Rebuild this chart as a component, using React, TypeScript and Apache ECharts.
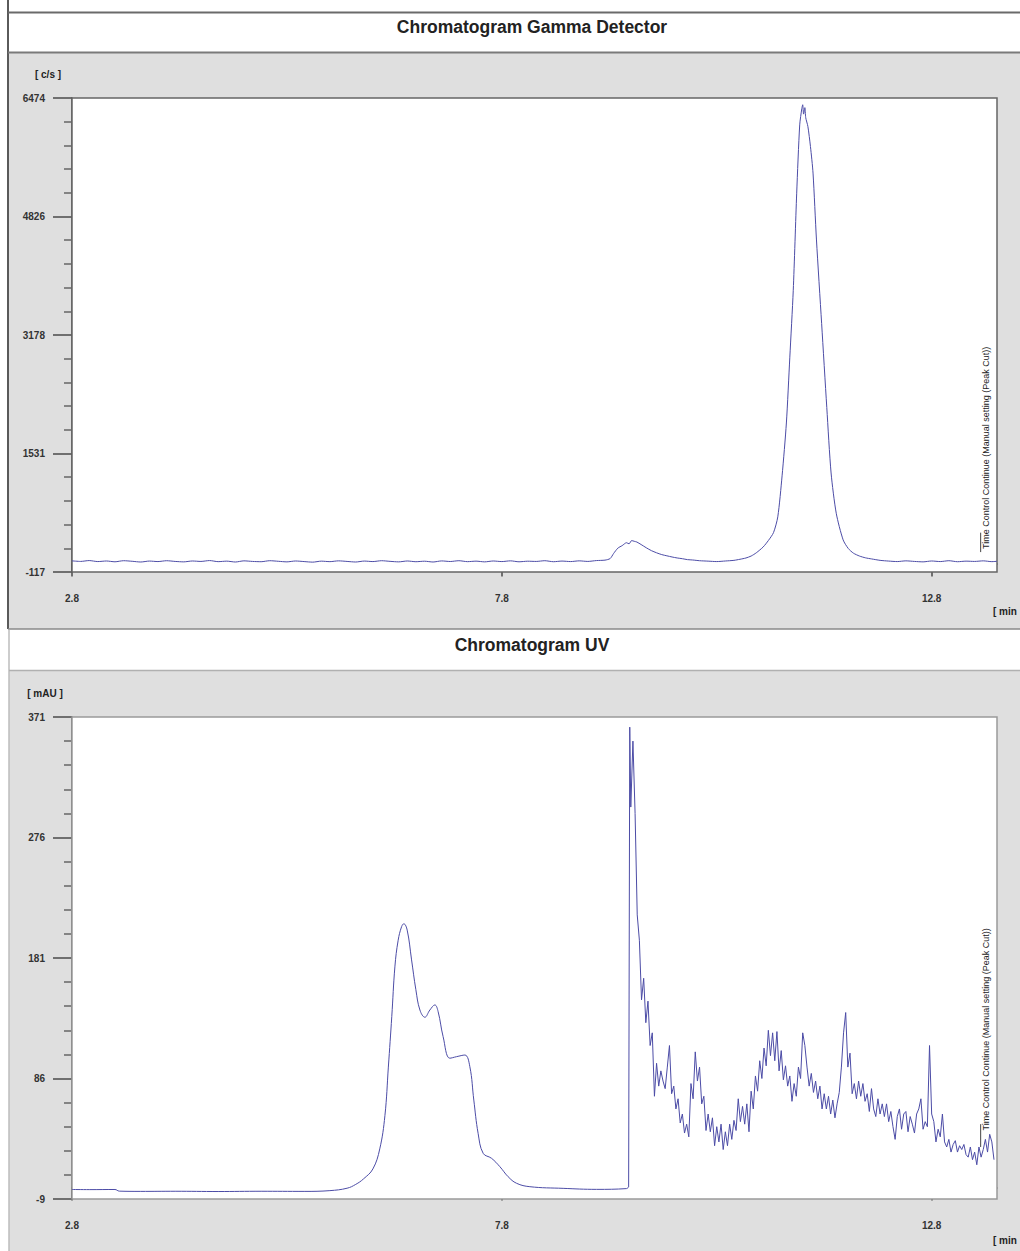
import React, { useEffect, useRef } from "react";
import * as echarts from "echarts";

// ---- axis settings ----
const TIME_MIN = 2.8;
const TIME_MAX = 13.56;
const timeLabels = [2.8, 7.8, 12.8];
const gammaLabels = [-117, 1531, 3178, 4826, 6474];
const uvLabels = [-9, 86, 181, 276, 371];

// ---- gamma detector trace [min, c/s] ----
const gammaBaseline: [number, number][] = [
  [2.8, 38], [2.9, 30], [3.0, 42], [3.1, 28], [3.2, 36], [3.3, 25], [3.4, 40], [3.5, 32],
  [3.6, 22], [3.7, 35], [3.8, 28], [3.9, 40], [4.0, 30], [4.1, 24], [4.2, 36], [4.3, 30],
  [4.4, 42], [4.5, 27], [4.6, 34], [4.7, 22], [4.8, 38], [4.9, 30], [5.0, 26], [5.1, 40],
  [5.2, 32], [5.3, 24], [5.4, 36], [5.5, 28], [5.6, 20], [5.7, 34], [5.8, 27], [5.9, 38],
  [6.0, 30], [6.1, 22], [6.2, 35], [6.3, 28], [6.4, 40], [6.5, 31], [6.6, 24], [6.7, 36],
  [6.8, 26], [6.9, 33], [7.0, 22], [7.1, 37], [7.2, 29], [7.3, 40], [7.4, 27], [7.5, 34],
  [7.6, 24], [7.7, 36], [7.8, 28], [7.9, 38], [8.0, 25], [8.1, 33], [8.2, 30], [8.3, 40],
  [8.4, 26], [8.5, 35], [8.6, 28], [8.7, 38], [8.8, 30], [8.9, 42], [9.0, 48],
];
const gammaPeaks: [number, number][] = [
  [9.06, 70], [9.1, 140], [9.15, 215], [9.2, 250], [9.25, 290], [9.28, 275], [9.31, 320],
  [9.34, 310], [9.37, 300], [9.42, 265], [9.48, 220], [9.54, 180], [9.6, 150], [9.66, 125],
  [9.72, 108], [9.78, 92], [9.84, 78], [9.9, 68], [9.96, 55], [10.02, 50], [10.1, 40],
  [10.2, 34], [10.3, 28], [10.4, 36], [10.5, 45], [10.57, 60], [10.64, 78], [10.7, 105],
  [10.76, 150], [10.84, 231], [10.9, 320], [10.96, 430], [11.01, 650], [11.06, 1220],
  [11.11, 1955], [11.15, 2870], [11.19, 3800], [11.23, 5150], [11.265, 6100], [11.29, 6330],
  [11.3, 6380], [11.31, 6250], [11.325, 6340], [11.335, 6200], [11.36, 6080], [11.39, 5800],
  [11.42, 5430], [11.46, 4500], [11.52, 3340], [11.58, 2170], [11.63, 1260], [11.69, 700],
  [11.77, 330], [11.83, 210], [11.89, 145], [11.96, 105], [12.03, 80], [12.1, 65],
];
const gammaTail: [number, number][] = [
  [12.2, 45], [12.3, 35], [12.4, 28], [12.5, 38], [12.6, 30], [12.7, 24], [12.8, 36],
  [12.9, 28], [13.0, 40], [13.1, 26], [13.2, 34], [13.3, 30], [13.4, 38], [13.5, 27], [13.56, 32],
];

// ---- UV trace [min, mAU] ----
const uvSmooth: [number, number][] = [
  [2.8, -1.5], [3.0, -1.6], [3.3, -1.5], [3.35, -2.8], [3.6, -3.0], [4.0, -2.9], [4.5, -3.1],
  [5.0, -2.9], [5.5, -3.0], [5.8, -2.4], [6.0, -0.5], [6.1, 2.5], [6.19, 6.8], [6.3, 14.7],
  [6.38, 30.5], [6.44, 56.7], [6.48, 95], [6.52, 135], [6.556, 174], [6.594, 195],
  [6.634, 205.7], [6.66, 208], [6.699, 203], [6.75, 179.5], [6.8, 156], [6.847, 140],
  [6.905, 134.3], [6.963, 140], [7.021, 144], [7.059, 138.7], [7.117, 119], [7.195, 102],
  [7.273, 103.2], [7.37, 104.5], [7.428, 95.3], [7.474, 69], [7.524, 42.8], [7.583, 27],
  [7.68, 23.1], [7.777, 16.5], [7.873, 8.6], [7.971, 3.4], [8.126, 0.7], [8.513, -0.6],
  [8.901, -1.4], [9.25, -0.8], [9.275, 0.5],
];
const uvSpike: [number, number][] = [[9.275, 0.5], [9.288, 363]];
// detector readings after the injection spike, sampled every 0.025 min
const uvNoisyStart = 9.3;
const uvNoisyStep = 0.025;
const uvNoisy = [
  300, 352, 295, 215, 195, 148, 165, 130, 147, 112, 122, 72, 98, 80, 92, 84, 78, 95, 112, 74,
  80, 62, 70, 51, 58, 43, 50, 40, 82, 70, 107, 84, 95, 66, 72, 45, 58, 44, 55, 33,
  48, 36, 50, 30, 44, 33, 50, 38, 53, 45, 70, 52, 64, 50, 66, 44, 76, 62, 88, 76,
  100, 86, 110, 96, 124, 104, 122, 100, 123, 92, 108, 85, 96, 80, 88, 68, 82, 72, 95, 86,
  122, 112, 95, 80, 90, 75, 84, 70, 80, 62, 74, 62, 72, 58, 69, 55, 66, 75, 95, 122,
  138, 95, 106, 74, 82, 70, 84, 72, 82, 68, 74, 60, 78, 62, 56, 70, 58, 66, 56, 66,
  52, 60, 48, 38, 56, 62, 46, 58, 60, 44, 56, 50, 43, 58, 62, 70, 46, 52, 48, 112,
  58, 52, 36, 46, 40, 58, 36, 32, 38, 28, 34, 37, 28, 33, 30, 34, 26, 24, 32, 22,
  28, 18, 32, 24, 30, 38, 28, 42, 36, 22,
];

// ---- run-control event marker ----
const markerText = "Time Control Continue (Manual setting (Peak Cut))";
const markerTime = 13.37;
const gammaMarker = { from: 160, to: 430, textAt: 203 };
const uvMarker = { from: 32, to: 50, textAt: 45 };

const FONT = '"Liberation Sans", Arial, sans-serif';
const TRACE = "#4c4ca6";
const AXIS = "#4a4a4a";

// intermediate tick positions between labelled ticks
function between(labels: number[], parts: number): number[] {
  const out: number[] = [];
  for (let i = 0; i < labels.length - 1; i++) {
    for (let j = 1; j < parts; j++) out.push(labels[i] + ((labels[i + 1] - labels[i]) * j) / parts);
  }
  return out;
}
const timeMinorTicks: number[] = [];
for (let i = 1; TIME_MIN + 0.5 * i < TIME_MAX; i++) {
  const t = Number((TIME_MIN + 0.5 * i).toFixed(2));
  if (!timeLabels.includes(t)) timeMinorTicks.push(t);
}

function xAxes(grid: number) {
  const base = { type: "value", gridIndex: grid, min: TIME_MIN, max: TIME_MAX, splitLine: { show: false }, position: "bottom" };
  return [
    {
      ...base,
      axisLine: { show: true, lineStyle: { color: AXIS, width: 1.5 } },
      axisTick: { show: true, customValues: timeLabels, length: 13, lineStyle: { color: AXIS, width: 1.5 } },
      axisLabel: {
        show: true, customValues: timeLabels, margin: 21, color: "#333",
        fontFamily: FONT, fontSize: 10, fontWeight: "bold",
        formatter: (v: number) => v.toFixed(1),
      },
    },
    {
      ...base,
      axisLine: { show: false },
      axisTick: { show: true, customValues: timeMinorTicks, length: 8, lineStyle: { color: AXIS, width: 1.5 } },
      axisLabel: { show: false },
    },
  ];
}

function yAxes(grid: number, labels: number[]) {
  const base = { type: "value", gridIndex: grid, min: labels[0], max: labels[labels.length - 1], splitLine: { show: false }, position: "left" };
  return [
    {
      ...base,
      axisLine: { show: true, lineStyle: { color: AXIS, width: 1.5 } },
      axisTick: { show: true, customValues: labels, length: 19, lineStyle: { color: AXIS, width: 1.5 } },
      axisLabel: {
        show: true, customValues: labels, margin: 27, color: "#333",
        fontFamily: FONT, fontSize: 10, fontWeight: "bold",
        formatter: (v: number) => String(Math.round(v)),
      },
    },
    {
      ...base,
      axisLine: { show: false },
      axisTick: { show: true, customValues: between(labels, 5), length: 8, lineStyle: { color: "#666", width: 1.5 } },
      axisLabel: { show: false },
    },
  ];
}

function traceSeries(data: [number, number][], axisIndex: number, smooth: number | boolean = false) {
  return {
    type: "line", xAxisIndex: axisIndex, yAxisIndex: axisIndex, data, smooth,
    showSymbol: false, symbol: "none", lineStyle: { color: TRACE, width: 1 }, z: 3,
  };
}
function markerSeries(m: { from: number; to: number }, axisIndex: number) {
  return {
    type: "line", xAxisIndex: axisIndex, yAxisIndex: axisIndex,
    data: [[markerTime, m.from], [markerTime, m.to]],
    showSymbol: false, symbol: "none", lineStyle: { color: "#444", width: 1 }, z: 4,
  };
}

function text(x: number, y: number, str: string, font: string, align = "left", extra: any = {}) {
  return {
    type: "text", x, y, z: 100,
    style: { text: str, font, fill: "#222", align, textAlign: align, verticalAlign: "middle", textVerticalAlign: "middle" },
    ...extra,
  };
}
function hline(x1: number, x2: number, y: number, color: string, w: number) {
  return { type: "line", z: 50, shape: { x1, y1: y, x2, y2: y }, style: { stroke: color, lineWidth: w } };
}
function vline(x: number, y1: number, y2: number, color: string, w: number) {
  return { type: "line", z: 50, shape: { x1: x, y1, x2: x, y2 }, style: { stroke: color, lineWidth: w } };
}

export default function App() {
  const ref = useRef<HTMLDivElement>(null);

  useEffect(() => {
    if (!ref.current) return;
    const chart = echarts.init(ref.current, null, { renderer: "svg" });

    const gammaData = [...gammaBaseline, ...gammaPeaks, ...gammaTail];
    const uvNoisyData: [number, number][] = [
      ...uvSpike,
      ...uvNoisy.map((v, i) => [Number((uvNoisyStart + uvNoisyStep * i).toFixed(3)), v] as [number, number]),
    ];

    chart.setOption({
      animation: false,
      backgroundColor: "#ffffff",
      grid: [
        { left: 72, top: 98, width: 925, height: 474, show: true, backgroundColor: "#ffffff", borderColor: "#666", borderWidth: 1.5, z: 1 },
        { left: 72, top: 717, width: 925, height: 482, show: true, backgroundColor: "#ffffff", borderColor: "#9a9a9a", borderWidth: 1.5, z: 1 },
      ],
      xAxis: [...xAxes(0), ...xAxes(1)],
      yAxis: [...yAxes(0, gammaLabels), ...yAxes(1, uvLabels)],
      series: [
        traceSeries(gammaData, 0, 0.25),
        markerSeries(gammaMarker, 0),
        traceSeries(uvSmooth, 2, 0.4),
        traceSeries(uvNoisyData, 2),
        markerSeries(uvMarker, 2),
      ],
    });

    const gT = chart.convertToPixel({ xAxisIndex: 0, yAxisIndex: 0 }, [markerTime, gammaMarker.textAt]) as number[];
    const uT = chart.convertToPixel({ xAxisIndex: 2, yAxisIndex: 2 }, [markerTime, uvMarker.textAt]) as number[];

    const titleFont = `bold 17.5px ${FONT}`;
    const unitFont = `bold 10px ${FONT}`;
    const noteFont = `9px ${FONT}`;

    chart.setOption({
      graphic: [
        // panel backgrounds
        { type: "rect", z: -10, shape: { x: 8, y: 53, width: 1012, height: 576 }, style: { fill: "#dfdfdf" } },
        { type: "rect", z: -10, shape: { x: 9, y: 671, width: 1011, height: 580 }, style: { fill: "#dfdfdf" } },
        // panel frames
        vline(8, 0, 629, "#5a5a5a", 2),
        hline(8, 1020, 12.5, "#6a6a6a", 2),
        hline(8, 1020, 52.5, "#7a7a7a", 2),
        hline(8, 1020, 629, "#8a8a8a", 1.5),
        vline(9, 630, 1251, "#bdbdbd", 1.5),
        hline(9, 1020, 670.5, "#b0b0b0", 1.5),
        // titles
        text(532, 27, "Chromatogram Gamma Detector", titleFont, "center"),
        text(532, 645, "Chromatogram UV", titleFont, "center"),
        // units
        text(48, 74, "[ c/s ]", unitFont, "center"),
        text(45, 693, "[ mAU ]", unitFont, "center"),
        text(993, 611, "[ min", unitFont, "left"),
        text(993, 1240, "[ min", unitFont, "left"),
        // event notes
        text(gT[0] + 5, gT[1], markerText, noteFont, "left", { rotation: Math.PI / 2 }),
        text(uT[0] + 5, uT[1], markerText, noteFont, "left", { rotation: Math.PI / 2 }),
      ],
    });

    return () => chart.dispose();
  }, []);

  return <div ref={ref} style={{ position: "absolute", left: 0, top: 0, width: 1020, height: 1251 }} />;
}
